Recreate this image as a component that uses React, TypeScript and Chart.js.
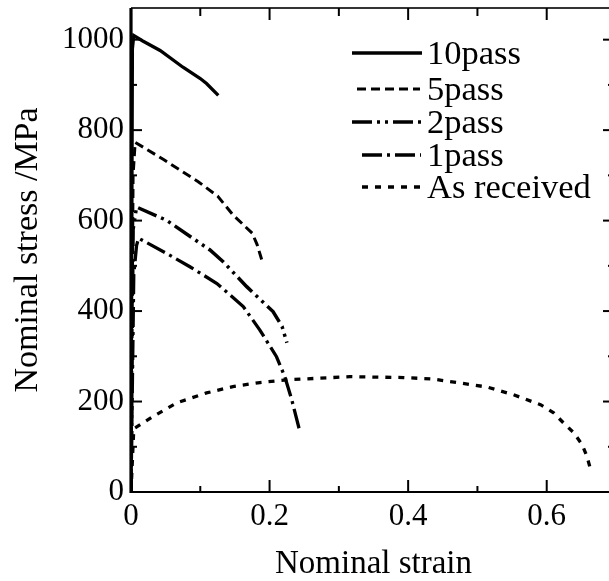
import React, { useEffect, useRef } from 'react';
import { Chart, registerables } from 'chart.js';

Chart.register(...registerables);

// ---- data ----
const seriesNames = ['10pass', '5pass', '2pass', '1pass', 'As received'];

const strain10 = [0, 0.002, 0.004, 0.017, 0.042, 0.075, 0.1, 0.109, 0.126];
const stress10 = [0, 980, 1009, 997, 976, 939, 914, 903, 877];

const strain5 = [0, 0.003, 0.006, 0.047, 0.097, 0.125, 0.147, 0.175, 0.182, 0.19];
const stress5 = [0, 700, 773, 735, 686, 654, 613, 572, 547, 507];

const strain2 = [0, 0.003, 0.008, 0.051, 0.114, 0.133, 0.167, 0.205, 0.218, 0.225];
const stress2 = [0, 580, 630, 601, 535, 509, 454, 399, 366, 330];

const strain1 = [0, 0.004, 0.008, 0.011, 0.052, 0.085, 0.124, 0.162, 0.186, 0.21, 0.222, 0.232, 0.243];
const stress1 = [0, 480, 545, 561, 527, 498, 461, 410, 358, 299, 255, 204, 138];

const strainAR = [0, 0.004, 0.032, 0.066, 0.109, 0.147, 0.186, 0.225, 0.316, 0.393, 0.434, 0.475, 0.514, 0.552, 0.591, 0.61, 0.624, 0.639, 0.651, 0.658, 0.664];
const stressAR = [0, 140, 167, 197, 219, 233, 242, 248, 255, 253, 250, 241, 232, 215, 193, 175, 153, 131, 105, 79, 46];

const xMajorTicks = [0, 0.2, 0.4, 0.6];
const xMinorTicks = [0.1, 0.3, 0.5];
const yMajorTicks = [0, 200, 400, 600, 800, 1000];
const yMinorTicks = [100, 300, 500, 700, 900];

const xTitle = 'Nominal strain';
const yTitle = 'Nominal stress /MPa';

// ---- styles ----
const FONT = 'Liberation Serif';
const INK = '#000';

const lineStyles = [
  { width: 3.3, dash: [] as number[], legend: [352, 422] },
  { width: 3, dash: [9, 5], legend: [357, 420] },
  { width: 3.5, dash: [20, 5, 3, 5, 3, 5], legend: [352, 422] },
  { width: 3.3, dash: [20, 5, 3, 5], legend: [362, 421] },
  { width: 3.3, dash: [6, 7], legend: [362, 420] },
];
const legendRowsY = [53, 89, 122, 155, 187];
const legendTextX = 427;

const allSeries = [
  [strain10, stress10],
  [strain5, stress5],
  [strain2, stress2],
  [strain1, stress1],
  [strainAR, stressAR],
];

const framePlugin = {
  id: 'frame',
  afterDraw(chart: any) {
    const { ctx, chartArea: a } = chart;
    const xs = chart.scales.x;
    const ys = chart.scales.y;
    ctx.save();
    ctx.setLineDash([]);
    ctx.lineWidth = 2;
    ctx.strokeStyle = '#333';
    ctx.beginPath();
    ctx.moveTo(a.left, a.top);
    ctx.lineTo(a.right, a.top);
    ctx.stroke();
    ctx.beginPath();
    ctx.moveTo(a.right, a.top);
    ctx.lineTo(a.right, a.bottom);
    ctx.stroke();
    ctx.strokeStyle = INK;
    ctx.lineWidth = 2.2;
    ctx.beginPath();
    ctx.moveTo(a.left, a.bottom);
    ctx.lineTo(a.right, a.bottom);
    ctx.stroke();
    ctx.lineWidth = 3.2;
    ctx.beginPath();
    ctx.moveTo(a.left, a.top);
    ctx.lineTo(a.left, a.bottom + 1);
    ctx.stroke();

    ctx.lineWidth = 2;
    const tick = (x1: number, y1: number, x2: number, y2: number) => {
      ctx.beginPath();
      ctx.moveTo(x1, y1);
      ctx.lineTo(x2, y2);
      ctx.stroke();
    };
    xMajorTicks.forEach((v) => {
      const px = xs.getPixelForValue(v);
      tick(px, a.bottom, px, a.bottom - 12);
      tick(px, a.top, px, a.top + 12);
    });
    xMinorTicks.forEach((v) => {
      const px = xs.getPixelForValue(v);
      tick(px, a.bottom, px, a.bottom - 6);
      tick(px, a.top, px, a.top + 8);
    });
    yMajorTicks.forEach((v) => {
      const py = ys.getPixelForValue(v);
      tick(a.left, py, a.left + 11, py);
      tick(a.right, py, a.right - 13, py);
    });
    yMinorTicks.forEach((v) => {
      const py = ys.getPixelForValue(v);
      tick(a.left, py, a.left + 6, py);
      tick(a.right, py, a.right - 8, py);
    });
    ctx.restore();
  },
};

const legendPlugin = {
  id: 'customLegend',
  afterDraw(chart: any) {
    const { ctx } = chart;
    ctx.save();
    chart.data.datasets.forEach((ds: any, i: number) => {
      const y = legendRowsY[i];
      const st = lineStyles[i];
      ctx.strokeStyle = INK;
      ctx.lineWidth = st.width;
      ctx.setLineDash(st.dash);
      ctx.beginPath();
      ctx.moveTo(st.legend[0], y);
      ctx.lineTo(st.legend[1], y);
      ctx.stroke();
      ctx.setLineDash([]);
      ctx.fillStyle = INK;
      ctx.font = `34.5px "${FONT}"`;
      ctx.textAlign = 'left';
      ctx.textBaseline = 'alphabetic';
      ctx.fillText(ds.label, legendTextX, y + 11);
    });
    ctx.restore();
  },
};

export default function App() {
  const ref = useRef<HTMLCanvasElement>(null);
  useEffect(() => {
    const canvas = ref.current!;
    const datasets = allSeries.map(([xs, ys], i) => ({
      label: seriesNames[i],
      data: xs.map((x, k) => ({ x, y: ys[k] })),
      borderColor: INK,
      borderWidth: lineStyles[i].width,
      borderDash: lineStyles[i].dash,
      pointRadius: 0,
      fill: false,
      tension: 0,
    }));
    const tickFont = { family: FONT, size: 31 };
    const chart = new Chart(canvas, {
      type: 'line',
      data: { datasets },
      options: {
        responsive: false,
        animation: false,
        devicePixelRatio: 1,
        layout: { padding: { top: 8, right: 9, bottom: 0, left: 0 } },
        plugins: { legend: { display: false }, tooltip: { enabled: false } },
        scales: {
          x: {
            type: 'linear',
            min: 0,
            max: 0.7,
            afterBuildTicks: (s: any) => {
              s.ticks = xMajorTicks.map((v) => ({ value: v }));
            },
            afterFit: (s: any) => {
              s.height = 89;
              s.paddingLeft = 0;
              s.paddingRight = 0;
            },
            grid: { display: false, drawTicks: false },
            border: { display: false },
            ticks: {
              font: tickFont,
              color: INK,
              padding: 6,
              maxRotation: 0,
              autoSkip: false,
              callback: (v: any) => String(Number(v)),
            },
            title: {
              display: true,
              text: xTitle,
              color: INK,
              font: { family: FONT, size: 33, lineHeight: 1.0 },
              padding: { top: 0, bottom: 0 },
            },
          },
          y: {
            type: 'linear',
            min: 0,
            max: 1070,
            afterBuildTicks: (s: any) => {
              s.ticks = yMajorTicks.map((v) => ({ value: v }));
            },
            afterFit: (s: any) => {
              s.width = 131;
              s.paddingTop = 0;
              s.paddingBottom = 0;
            },
            grid: { display: false, drawTicks: false },
            border: { display: false },
            ticks: {
              font: tickFont,
              color: INK,
              padding: 7,
              autoSkip: false,
              callback: (v: any) => String(Number(v)),
            },
            title: {
              display: true,
              text: yTitle,
              color: INK,
              font: { family: FONT, size: 34 },
              padding: { top: 8, bottom: 0 },
            },
          },
        },
      } as any,
      plugins: [framePlugin, legendPlugin],
    });
    return () => chart.destroy();
  }, []);
  return (
    <div
      style={{
        position: 'fixed',
        left: 0,
        top: 0,
        width: 609,
        height: 581,
        overflow: 'hidden',
        background: '#fff',
      }}
    >
      <canvas ref={ref} width={625} height={581} style={{ display: 'block' }} />
    </div>
  );
}
